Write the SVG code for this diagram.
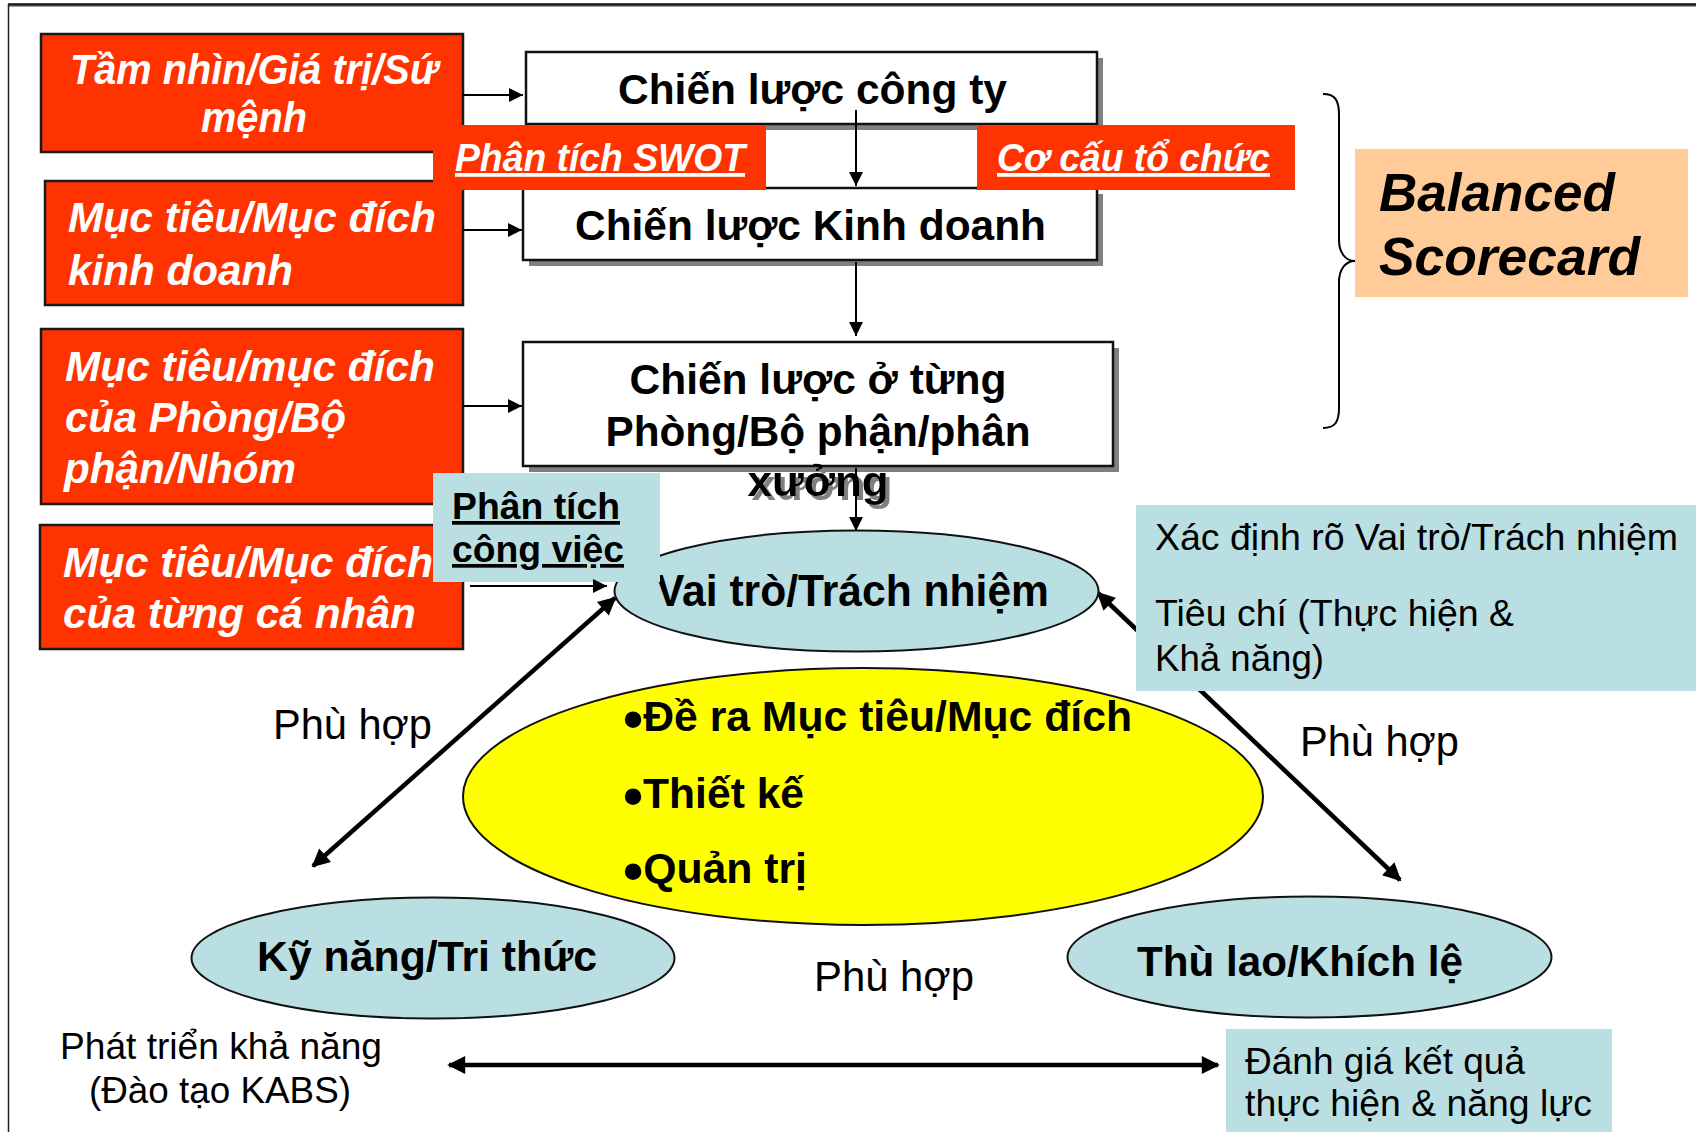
<svg xmlns="http://www.w3.org/2000/svg" width="1696" height="1132" viewBox="0 0 1696 1132">
<defs>
<style>
text{font-family:"Liberation Sans",Arial,sans-serif}
.red{fill:#FF3300;stroke:#1a1a1a;stroke-width:2.5}
.tag{fill:#FF3300}
.wbox{fill:#ffffff;stroke:#111;stroke-width:2.5}
.shadow{fill:#808080}
.lb{fill:#B9DFE3}
.ell{stroke:#111;stroke-width:2}
.rt{fill:#fff;font-weight:bold;font-style:italic;font-size:43px}
.bt{fill:#000;font-weight:bold;font-size:43px}
.nt{fill:#000;font-size:37px}
.bul{font-size:58px}
.thin{stroke:#000;stroke-width:2;fill:none}
.thick{stroke:#000;stroke-width:4.5;fill:none}
</style>
<filter id="tshadow" x="-10%" y="-20%" width="130%" height="150%">
<feOffset in="SourceAlpha" dx="4" dy="4" result="off"/>
<feFlood flood-color="#808080" result="col"/>
<feComposite in="col" in2="off" operator="in" result="sh"/>
<feMerge><feMergeNode in="sh"/><feMergeNode in="SourceGraphic"/></feMerge>
</filter>
<marker id="ah" viewBox="0 0 10 10" refX="10" refY="5" markerWidth="7" markerHeight="7" markerUnits="strokeWidth" orient="auto-start-reverse">
<path d="M0,0 L10,5 L0,10 z" fill="#000"/>
</marker>
<marker id="ahb" viewBox="0 0 10 10" refX="9" refY="5" markerWidth="4.5" markerHeight="4" markerUnits="strokeWidth" orient="auto-start-reverse">
<path d="M0,0 L10,5 L0,10 z" fill="#000"/>
</marker>
</defs>
<rect width="1696" height="1132" fill="#fff"/>
<g id="frame">
<line x1="8" y1="4.5" x2="1696" y2="4.5" stroke="#111" stroke-width="2.5"/>
<line x1="8" y1="6.5" x2="1696" y2="6.5" stroke="#999" stroke-width="1"/>
<line x1="8.5" y1="4" x2="8.5" y2="1132" stroke="#222" stroke-width="1.5"/>
</g>

<g id="connectors-bottom">
<line class="thick" x1="615" y1="598" x2="313" y2="866" marker-start="url(#ahb)" marker-end="url(#ahb)"/>
<line class="thick" x1="1098" y1="593" x2="1400" y2="880" marker-start="url(#ahb)" marker-end="url(#ahb)"/>
</g>

<g id="n-tamnhin">
<rect class="red" x="41" y="34" width="422" height="118"/>
<text class="rt" x="254" y="84" text-anchor="middle" textLength="368" lengthAdjust="spacingAndGlyphs">Tầm nhìn/Giá trị/Sứ</text>
<text class="rt" x="254" y="132" text-anchor="middle" textLength="106" lengthAdjust="spacingAndGlyphs">mệnh</text>
</g>
<g id="n-muctieu-kd">
<rect class="red" x="45" y="181" width="418" height="124"/>
<text class="rt" x="68" y="232" textLength="368" lengthAdjust="spacingAndGlyphs">Mục tiêu/Mục đích</text>
<text class="rt" x="68" y="285" textLength="225" lengthAdjust="spacingAndGlyphs">kinh doanh</text>
</g>
<g id="n-muctieu-phong">
<rect class="red" x="41" y="329" width="422" height="175"/>
<text class="rt" x="65" y="381" textLength="370" lengthAdjust="spacingAndGlyphs">Mục tiêu/mục đích</text>
<text class="rt" x="65" y="432" textLength="281" lengthAdjust="spacingAndGlyphs">của Phòng/Bộ</text>
<text class="rt" x="64" y="483" textLength="232" lengthAdjust="spacingAndGlyphs">phận/Nhóm</text>
</g>
<g id="n-muctieu-canhan">
<rect class="red" x="40" y="525" width="423" height="124"/>
<text class="rt" x="63" y="577" textLength="370" lengthAdjust="spacingAndGlyphs">Mục tiêu/Mục đích</text>
<text class="rt" x="63" y="628" textLength="353" lengthAdjust="spacingAndGlyphs">của từng cá nhân</text>
</g>

<g id="n-cl-congty">
<rect class="shadow" x="532" y="58" width="571" height="72"/>
<rect class="wbox" x="526" y="52" width="571" height="72"/>
<text class="bt" x="618" y="104" textLength="389" lengthAdjust="spacingAndGlyphs">Chiến lược công ty</text>
</g>
<g id="n-cl-kinhdoanh">
<rect class="shadow" x="529" y="194" width="574" height="72"/>
<rect class="wbox" x="523" y="188" width="574" height="72"/>
<text class="bt" x="575" y="240" textLength="471" lengthAdjust="spacingAndGlyphs">Chiến lược Kinh doanh</text>
</g>
<g id="n-swot">
<rect class="tag" x="433" y="125" width="333" height="65"/>
<text class="rt" x="455" y="171" style="font-size:38px" text-decoration="underline" textLength="290" lengthAdjust="spacingAndGlyphs">Phân tích SWOT</text>
</g>
<g id="n-cocau">
<rect class="tag" x="977" y="125" width="318" height="65"/>
<text class="rt" x="997" y="171" style="font-size:38px" text-decoration="underline" textLength="273" lengthAdjust="spacingAndGlyphs">Cơ cấu tổ chức</text>
</g>
<g id="n-cl-phong">
<rect class="shadow" x="529" y="348" width="590" height="124"/>
<rect class="wbox" x="523" y="342" width="590" height="124"/>
<text class="bt" x="818" y="394" text-anchor="middle" textLength="377" lengthAdjust="spacingAndGlyphs">Chiến lược ở từng</text>
<text class="bt" x="818" y="446" text-anchor="middle" textLength="425" lengthAdjust="spacingAndGlyphs">Phòng/Bộ phận/phân</text>
<text class="bt" x="818" y="496" text-anchor="middle" filter="url(#tshadow)" textLength="141" lengthAdjust="spacingAndGlyphs">xưởng</text>
</g>

<g id="n-brace">
<path d="M1323,94 C1335,94 1339,100 1339,115 L1339,240 C1339,252 1345,261 1355,261 C1345,261 1339,270 1339,282 L1339,408 C1339,422 1335,428 1323,428" fill="none" stroke="#000" stroke-width="2"/>
</g>
<g id="n-bsc">
<rect x="1355" y="149" width="333" height="148" fill="#FFCC99"/>
<text x="1379" y="211" font-size="54" font-weight="bold" font-style="italic" fill="#000" textLength="236" lengthAdjust="spacingAndGlyphs">Balanced</text>
<text x="1379" y="275" font-size="54" font-weight="bold" font-style="italic" fill="#000" textLength="261" lengthAdjust="spacingAndGlyphs">Scorecard</text>
</g>

<g id="n-vaitro">
<ellipse class="ell lb" cx="856.5" cy="591" rx="242" ry="60.5"/>
<text class="bt" x="656" y="606" style="font-size:44px" textLength="393" lengthAdjust="spacingAndGlyphs">Vai trò/Trách nhiệm</text>
</g>
<g id="n-phantichcv">
<rect class="lb" x="433" y="473" width="227" height="109"/>
<text class="bt" x="452" y="519" style="font-size:37px" text-decoration="underline" textLength="168" lengthAdjust="spacingAndGlyphs">Phân tích</text>
<text class="bt" x="452" y="562" style="font-size:37px" text-decoration="underline" textLength="172" lengthAdjust="spacingAndGlyphs">công việc</text>
</g>
<g id="n-xacdinh">
<rect class="lb" x="1136" y="505" width="560" height="186"/>
<text class="nt" x="1155" y="550" textLength="523" lengthAdjust="spacingAndGlyphs">Xác định rõ Vai trò/Trách nhiệm</text>
<text class="nt" x="1155" y="626" textLength="359" lengthAdjust="spacingAndGlyphs">Tiêu chí (Thực hiện &amp;</text>
<text class="nt" x="1155" y="671" textLength="169" lengthAdjust="spacingAndGlyphs">Khả năng)</text>
</g>
<g id="n-center">
<ellipse class="ell" cx="863" cy="796.5" rx="400" ry="128.5" fill="#FFFF00"/>
<text class="bt" x="623" y="731" textLength="509" lengthAdjust="spacingAndGlyphs"><tspan class="bul" dy="8">•</tspan><tspan dy="-8">Đề ra Mục tiêu/Mục đích</tspan></text>
<text class="bt" x="623" y="808" textLength="181" lengthAdjust="spacingAndGlyphs"><tspan class="bul" dy="8">•</tspan><tspan dy="-8">Thiết kế</tspan></text>
<text class="bt" x="623" y="883" textLength="184" lengthAdjust="spacingAndGlyphs"><tspan class="bul" dy="8">•</tspan><tspan dy="-8">Quản trị</tspan></text>
</g>
<g id="n-kynang">
<ellipse class="ell lb" cx="433" cy="958" rx="241.5" ry="60.5"/>
<text class="bt" x="257" y="971" textLength="340" lengthAdjust="spacingAndGlyphs">Kỹ năng/Tri thức</text>
</g>
<g id="n-thulao">
<ellipse class="ell lb" cx="1309.5" cy="957" rx="242" ry="60.5"/>
<text class="bt" x="1137" y="976" textLength="326" lengthAdjust="spacingAndGlyphs">Thù lao/Khích lệ</text>
</g>
<g id="labels">
<text class="nt" x="273" y="739" style="font-size:42px" textLength="159" lengthAdjust="spacingAndGlyphs">Phù hợp</text>
<text class="nt" x="1300" y="756" style="font-size:42px" textLength="159" lengthAdjust="spacingAndGlyphs">Phù hợp</text>
<text class="nt" x="814" y="991" style="font-size:42px" textLength="160" lengthAdjust="spacingAndGlyphs">Phù hợp</text>
</g>
<g id="n-phattrien">
<text class="nt" x="60" y="1059" style="font-size:36px" textLength="322" lengthAdjust="spacingAndGlyphs">Phát triển khả năng</text>
<text class="nt" x="89" y="1103" style="font-size:36px" textLength="262" lengthAdjust="spacingAndGlyphs">(Đào tạo KABS)</text>
</g>
<g id="n-danhgia">
<rect class="lb" x="1226" y="1029" width="386" height="110"/>
<text class="nt" x="1245" y="1074" style="font-size:36px" textLength="280" lengthAdjust="spacingAndGlyphs">Đánh giá kết quả</text>
<text class="nt" x="1245" y="1116" style="font-size:36px" textLength="347" lengthAdjust="spacingAndGlyphs">thực hiện &amp; năng lực</text>
</g>

<g id="connectors">
<line class="thin" x1="463" y1="95" x2="523" y2="95" marker-end="url(#ah)"/>
<line class="thin" x1="463" y1="230" x2="522" y2="230" marker-end="url(#ah)"/>
<line class="thin" x1="463" y1="406" x2="522" y2="406" marker-end="url(#ah)"/>
<line class="thin" x1="470" y1="586" x2="607" y2="586" marker-end="url(#ah)"/>
<line class="thin" x1="856" y1="110" x2="856" y2="186" marker-end="url(#ah)"/>
<line class="thin" x1="856" y1="262" x2="856" y2="336" marker-end="url(#ah)"/>
<line class="thin" x1="856" y1="468" x2="856" y2="531" marker-end="url(#ah)"/>
<line class="thick" x1="449" y1="1065" x2="1218" y2="1065" marker-start="url(#ahb)" marker-end="url(#ahb)"/>
</g>
</svg>
